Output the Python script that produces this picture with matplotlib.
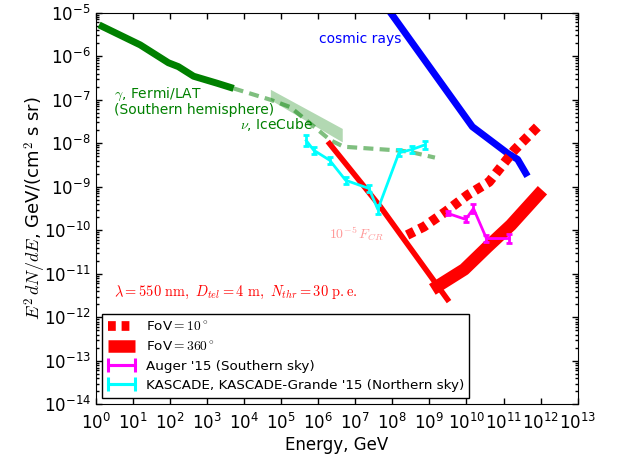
import numpy as np
import matplotlib
matplotlib.use("Agg")
import matplotlib.pyplot as plt
from matplotlib.ticker import LogLocator, NullLocator, LogFormatterSciNotation
from matplotlib.legend_handler import HandlerErrorbar

plt.rcParams['mathtext.fontset'] = 'cm'
plt.rcParams['font.family'] = ['DejaVu Sans']
plt.rcParams['axes.unicode_minus'] = False

# ---- data (log10 of energy in GeV, log10 of E^2 dN/dE) ----
fermi_logE = [0.09, 1.20, 1.96, 2.23, 2.64, 3.27, 3.72]
fermi_logF = [-5.28, -5.74, -6.15, -6.24, -6.46, -6.62, -6.74]

fermi_ext_logE = [3.72, 4.71, 5.25, 6.33, 6.69, 8.22, 8.49, 9.15]
fermi_ext_logF = [-6.74, -7.00, -7.17, -7.93, -8.08, -8.17, -8.20, -8.33]

icecube_logE = [4.71, 6.65]
icecube_lo_logF = [-7.00, -7.97]
icecube_hi_logF = [-6.76, -7.66]

cr_logE = [7.50, 10.16, 11.11, 11.38, 11.60]
cr_logF = [-4.46, -7.62, -8.23, -8.37, -8.69]

fcr_logE = [6.26, 7.68, 9.53]
fcr_logF = [-7.96, -9.46, -11.64]

fov10_logE = [8.40, 8.85, 9.44, 10.03, 10.61, 11.29, 11.92]
fov10_logF = [-10.11, -9.92, -9.57, -9.19, -8.89, -8.16, -7.62]

fov360_logE = [9.08, 9.94, 10.57, 11.20, 12.05]
fov360_logF = [-11.36, -10.90, -10.38, -9.88, -9.08]

auger_logE = [9.49, 9.98, 10.19, 10.54, 11.15]
auger_logF = [-9.61, -9.75, -9.50, -10.19, -10.19]
auger_err = [0.05, 0.07, 0.11, 0.09, 0.11]

kascade_logE = [5.68, 5.88, 6.31, 6.74, 7.37, 7.61, 8.18, 8.54, 8.87]
kascade_logF = [-7.94, -8.16, -8.39, -8.85, -9.04, -9.52, -8.22, -8.14, -8.04]
kascade_err = [0.12, 0.08, 0.08, 0.08, 0.08, 0.10, 0.08, 0.08, 0.10]

xticks_exp = list(range(0, 14))
yticks_exp = list(range(-14, -4))


def v(a):
    return 10.0 ** np.asarray(a, dtype=float)


def errs(logF, e):
    F = v(logF)
    e = np.asarray(e)
    return [F - F * 10 ** (-e), F * 10 ** e - F]


fig = plt.figure(figsize=(6.39, 4.57), dpi=100)
ax = fig.add_axes([0.1498, 0.1153, 0.7542, 0.8569])

green = '#008000'

ax.fill_between(v(icecube_logE), v(icecube_lo_logF), v(icecube_hi_logF),
                color=green, alpha=0.3, lw=0)
ax.plot(v(fermi_ext_logE), v(fermi_ext_logF), color=green, alpha=0.5, lw=3,
        dashes=(2.4, 1.5))
ax.plot(v(fermi_logE), v(fermi_logF), color=green, lw=5, solid_capstyle='butt')
ax.plot(v(cr_logE), v(cr_logF), color='#0000ff', lw=5)
ax.plot(v(fcr_logE), v(fcr_logF), color='#ff0000', lw=4, solid_capstyle='butt')
ax.plot(v(fov10_logE), v(fov10_logF), color='#ff0000', lw=7,
        dashes=(0.8, 0.6), dash_capstyle='butt', label=r'FoV$=10^\circ$')
ax.plot(v(fov360_logE), v(fov360_logF), color='#ff0000', lw=9,
        solid_capstyle='butt', label=r'FoV$=360^\circ$')

ax.errorbar(v(auger_logE), v(auger_logF), yerr=errs(auger_logF, auger_err),
            color='#ff00ff', lw=2, capsize=2.2, capthick=2)
ax.errorbar(v(kascade_logE), v(kascade_logF), yerr=errs(kascade_logF, kascade_err),
            color='#00ffff', lw=2, capsize=2.2, capthick=2)

# legend proxies
ha = ax.errorbar([np.nan], [np.nan], xerr=[1], color='#ff00ff', lw=2.2,
                 capsize=5, capthick=2.2, label="Auger '15 (Southern sky)")
hk = ax.errorbar([np.nan], [np.nan], xerr=[1], color='#00ffff', lw=2.2,
                 capsize=5, capthick=2.2,
                 label="KASCADE, KASCADE-Grande '15 (Northern sky)")

ax.set_xscale('log')
ax.set_yscale('log')
ax.set_xlim(1, 1e13)
ax.set_ylim(1e-14, 1e-5)
ax.set_xticks(v(xticks_exp))
ax.set_yticks(v(yticks_exp))
ax.xaxis.set_minor_locator(NullLocator())
ax.yaxis.set_minor_locator(LogLocator(base=10, subs=np.arange(2, 10), numticks=30))
ax.xaxis.set_major_formatter(LogFormatterSciNotation())
ax.yaxis.set_major_formatter(LogFormatterSciNotation())
ax.tick_params(which='both', direction='in', top=True, right=True, labelsize=12)
ax.tick_params(which='major', length=4, width=1)
ax.tick_params(which='minor', length=2, width=1)
ax.tick_params(axis='x', pad=6)

ax.set_xlabel('Energy, GeV', fontsize=12, labelpad=2)
ax.set_ylabel(r'$E^2\,dN/dE$, GeV/(cm$^2$ s sr)', fontsize=13, labelpad=-3)

ax.text(v(6.01), v(-5.6), 'cosmic rays', color='#0000ff', fontsize=10,
        ha='left', va='center')
ax.text(v(0.5), v(-7.04), '$\\gamma$, Fermi/LAT\n(Southern hemisphere)',
        color=green, fontsize=10, ha='left', va='center', linespacing=0.95)
ax.text(v(3.9), v(-7.58), r'$\nu$, IceCube', color=green, fontsize=10,
        ha='left', va='center')
ax.text(v(6.28), v(-10.07), r'$10^{-5}\,F_{CR}$', color='#ff9999', fontsize=10,
        ha='left', va='center')
ax.text(v(0.5), v(-11.44),
        r'$\lambda=550\ \mathrm{nm},\ D_{tel}=4\ \mathrm{m},\ N_{thr}=30\ \mathrm{p.e.}$',
        color='#ff0000', fontsize=10.4, ha='left', va='center')

handles, labels = ax.get_legend_handles_labels()
leg = ax.legend(handles, labels, loc='lower left', fontsize=9.7, fancybox=False,
                edgecolor='black', framealpha=1, numpoints=1, labelspacing=0.45,
                handler_map={type(ha): HandlerErrorbar(xerr_size=1.0)})
leg.get_frame().set_linewidth(1.0)

fig.savefig('out.png', dpi=100)
